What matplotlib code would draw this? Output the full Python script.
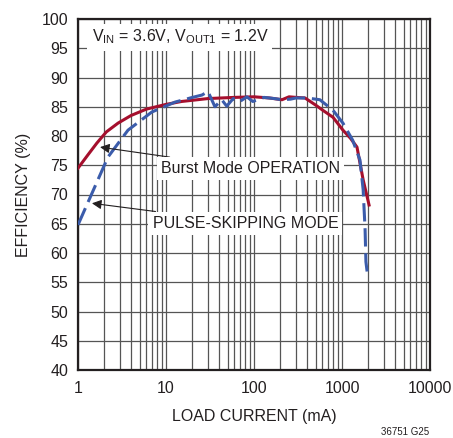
import numpy as np
import matplotlib
matplotlib.use('Agg')
import matplotlib.pyplot as plt
from matplotlib.ticker import LogLocator, NullFormatter, FixedLocator

plt.rcParams['font.family'] = ['Liberation Sans Narrow', 'Liberation Sans', 'DejaVu Sans']

# Burst Mode curve (load current mA, efficiency %)
burst_i = [1, 1.3, 1.64, 2.1, 2.85, 4, 6, 10, 15, 30, 60, 100, 150, 208, 250, 300, 380, 500, 605, 790, 1025, 1250, 1480, 1740, 2030]
burst_e = [74.5, 76.8, 78.8, 80.7, 82.2, 83.5, 84.6, 85.4, 85.9, 86.4, 86.6, 86.7, 86.5, 86.2, 86.7, 86.6, 86.5, 85.3, 84.4, 83.2, 81.0, 79.6, 78.1, 72.5, 68.2]

# Pulse-skipping curve
ps_i = [1, 1.5, 2.19, 3.7, 6.9, 12.7, 20, 25.6, 30, 36, 43, 49, 58, 69, 83, 97, 130, 170, 208, 260, 300, 400, 560, 790, 1025, 1320, 1600, 1740, 1830, 1870, 1970]
ps_e = [64.8, 70.8, 76.4, 81.0, 84.1, 85.8, 86.6, 87.0, 87.6, 85.0, 86.2, 85.1, 86.4, 85.9, 86.7, 85.9, 86.6, 86.4, 86.2, 86.3, 86.5, 86.5, 86.2, 84.4, 82.2, 79.3, 75.9, 70.8, 64.0, 58.5, 55.7]

FS = 11.5
INK = '#231f20'

fig = plt.figure(figsize=(4.53, 4.38), dpi=100)
ax = fig.add_axes([78/453, 1 - 370/438, 352/453, 351/438])

ax.set_xscale('log')
ax.set_xlim(1, 10000)
ax.set_ylim(40, 100)
ax.xaxis.set_minor_locator(LogLocator(base=10, subs=np.arange(2, 10), numticks=50))
ax.xaxis.set_minor_formatter(NullFormatter())
ax.set_xticks([1, 10, 100, 1000, 10000])
ax.set_xticklabels(['1', '10', '100', '1000', '10000'])
ax.yaxis.set_major_locator(FixedLocator(np.arange(40, 101, 5)))
ax.grid(True, which='both', color='#555555', linewidth=0.9)
ax.tick_params(which='both', length=0, labelsize=FS, colors=INK)
ax.tick_params(axis='y', pad=7)
ax.tick_params(axis='x', pad=8)
for s in ax.spines.values():
    s.set_linewidth(1.6)
    s.set_color(INK)
ax.set_axisbelow(True)

ax.plot(burst_i, burst_e, color='#a50f2d', lw=2.2, zorder=3)
ax.plot(ps_i, ps_e, color='#3b5cab', lw=2.2, dashes=(6, 2.2), zorder=4)

ax.text(14.4, 96.9, r'V$_{\mathregular{IN}}$ = 3.6V, V$_{\mathregular{OUT1}}$ = 1.2V', fontsize=FS,
        ha='center', va='center', color=INK, zorder=5,
        bbox=dict(facecolor='white', edgecolor='none', pad=3))

ax.annotate('Burst Mode OPERATION', xy=(1.78, 78.1), xytext=(92, 74.4),
            fontsize=FS, ha='center', va='center', color=INK, zorder=5,
            bbox=dict(facecolor='white', edgecolor='none', pad=3),
            arrowprops=dict(arrowstyle='-|>', color=INK, lw=0.8,
                            mutation_scale=14, shrinkA=0, shrinkB=0))
ax.annotate('PULSE-SKIPPING MODE', xy=(1.44, 68.5), xytext=(80, 65.1),
            fontsize=FS, ha='center', va='center', color=INK, zorder=5,
            bbox=dict(facecolor='white', edgecolor='none', pad=3),
            arrowprops=dict(arrowstyle='-|>', color=INK, lw=0.8,
                            mutation_scale=14, shrinkA=0, shrinkB=0))

ax.set_xlabel('LOAD CURRENT (mA)', fontsize=FS, color=INK, labelpad=9)
ax.set_ylabel('EFFICIENCY (%)', fontsize=FS, color=INK, labelpad=8)
fig.text(405/453, 1 - 432/438, '36751 G25', fontsize=7, ha='center', va='center', color=INK)

fig.savefig('out.png', dpi=100)
